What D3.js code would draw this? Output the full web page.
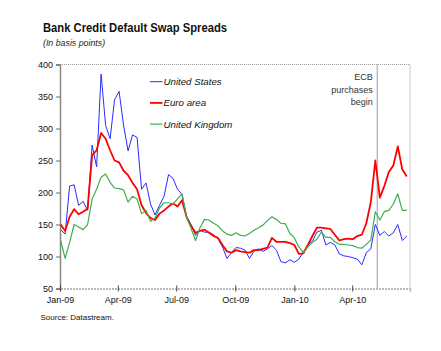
<!DOCTYPE html>
<html><head><meta charset="utf-8">
<script src="https://cdn.jsdelivr.net/npm/d3@7"></script>
<style>body{margin:0;background:#fff}svg{display:block}text{font-family:"Liberation Sans",Arial,sans-serif}</style>
</head><body><svg id="c" width="441" height="351"></svg>
<script>
const dates = ["2009-01-02","2009-01-09","2009-01-16","2009-01-23","2009-01-30","2009-02-06","2009-02-13","2009-02-20","2009-02-27",
"2009-03-06","2009-03-13","2009-03-20","2009-03-27","2009-04-03","2009-04-10","2009-04-17","2009-04-24","2009-05-01","2009-05-08",
"2009-05-15","2009-05-22","2009-05-29","2009-06-05","2009-06-12","2009-06-19","2009-06-26","2009-07-03","2009-07-10","2009-07-17",
"2009-07-24","2009-07-31","2009-08-07","2009-08-14","2009-08-21","2009-08-28","2009-09-04","2009-09-11","2009-09-18","2009-09-25",
"2009-10-02","2009-10-09","2009-10-16","2009-10-23","2009-10-30","2009-11-06","2009-11-13","2009-11-20","2009-11-27","2009-12-04",
"2009-12-11","2009-12-18","2009-12-25","2010-01-01","2010-01-08","2010-01-15","2010-01-22","2010-01-29","2010-02-05","2010-02-12",
"2010-02-19","2010-02-26","2010-03-05","2010-03-12","2010-03-19","2010-03-26","2010-04-02","2010-04-09","2010-04-16","2010-04-23",
"2010-04-30","2010-05-07","2010-05-14","2010-05-21","2010-05-28","2010-06-04","2010-06-11","2010-06-18","2010-06-25"];
const unitedStates = [142,135,210,212,180,186,172,274,240,385,305,284,345,358,305,265,290,286,205,215,182,165,180,194,228,222,205,197,
163,150,133,141,138,138,134,128,115,97,106,114,113,110,97,108,112,108,112,117,110,92,90,95,91,96,107,118,124,138,141,118,122,118,
104,101,100,98,96,87,106,112,150,133,139,132,137,150,125,132];
const euroArea = [150,140,162,174,166,170,175,258,266,293,284,266,250,247,234,227,215,205,180,168,160,157,167,172,178,183,178,188,
162,148,137,140,142,137,132,129,118,108,106,110,108,107,106,110,110,112,114,129,123,123,123,121,118,104,105,118,132,145,145,144,143,
134,125,127,128,127,132,134,152,185,250,192,210,232,242,272,236,225];
const unitedKingdom = [125,97,122,150,146,142,150,190,205,224,229,216,207,206,204,185,194,190,167,172,155,160,176,184,184,182,190,198,
162,144,125,145,158,157,152,148,140,135,133,137,133,132,136,141,145,149,156,162,158,152,151,136,129,115,106,115,122,127,138,130,130,
123,119,119,118,117,114,113,119,126,170,157,170,172,182,198,172,172];
const yTicks = [50,100,150,200,250,300,350,400];
const xTickDates = ["2009-01-01","2009-04-01","2009-07-01","2009-10-01","2010-01-01","2010-04-01"];
const seriesNames = ["United States","Euro area","United Kingdom"];
const ecbDate = "2010-05-10";
const ecbLabel = ["ECB","purchases","begin"];

const parse = d3.timeParse("%Y-%m-%d");
const svg = d3.select("#c");
const L=60,R=410,T=64.5,B=288.5;
const x = d3.scaleTime().domain([parse("2009-01-01"),parse("2010-06-30")]).range([L,R]);
const y = d3.scaleLinear().domain([50,400]).range([B,T]);

// frame (top & right dotted)
svg.append("line").attr("x1",L).attr("x2",R).attr("y1",T).attr("y2",T).attr("stroke","#999").attr("stroke-dasharray","1,1");
svg.append("line").attr("x1",R).attr("x2",R).attr("y1",T).attr("y2",B).attr("stroke","#999").attr("stroke-dasharray","1,1");

// ECB line
svg.append("line").attr("x1",x(parse(ecbDate))).attr("x2",x(parse(ecbDate))).attr("y1",T).attr("y2",B)
  .attr("stroke","#b0b0b0").attr("stroke-width",1.2);
svg.append("text").selectAll("tspan").data(ecbLabel).join("tspan")
  .attr("x",x(parse(ecbDate))-4.5).attr("y",(d,i)=>80+i*12.5).attr("text-anchor","end")
  .attr("font-size",9).attr("fill","#333").text(d=>d);

// axes
const yAxis = d3.axisLeft(y).tickValues(yTicks).tickSize(4).tickPadding(3);
const gy = svg.append("g").attr("transform",`translate(${L},0)`).call(yAxis);
gy.select(".domain").attr("stroke","#888").attr("stroke-width",1.5);
gy.selectAll(".tick line").attr("stroke","#666");
gy.selectAll("text").attr("font-size",9).attr("fill","#111").attr("font-family","Liberation Sans, Arial, sans-serif");

const xAxis = d3.axisBottom(x).tickValues(xTickDates.map(parse)).tickFormat(d3.timeFormat("%b-%y")).tickSize(3).tickPadding(5);
const gx = svg.append("g").attr("transform",`translate(0,${B})`).call(xAxis);
gx.select(".domain").attr("stroke","#777").attr("stroke-dasharray","2,1").attr("stroke-width",1.2);
gx.selectAll(".tick line").attr("stroke","#444").attr("y1",-3);
gx.selectAll("text").attr("font-size",9).attr("fill","#111").attr("font-family","Liberation Sans, Arial, sans-serif");

// lines
const colors = ["#2b2bff","#ff0000","#3cb050"];
const widths = [1,1.8,1.2];
const allSeries = [unitedStates, euroArea, unitedKingdom];
const line = d3.line().x(d=>x(d[0])).y(d=>y(d[1]));
allSeries.forEach((s,i)=>{
  svg.append("path").datum(dates.map((d,j)=>[parse(d),s[j]]))
    .attr("d",line).attr("fill","none").attr("stroke",colors[i]).attr("stroke-width",widths[i]).attr("stroke-linejoin","round");
});

// legend
const lg = svg.append("g");
seriesNames.forEach((n,i)=>{
  const yy = 81.7 + i*21.2;
  lg.append("line").attr("x1",150).attr("x2",162.5).attr("y1",yy).attr("y2",yy).attr("stroke",colors[i]).attr("stroke-width",widths[i]);
  lg.append("text").attr("x",163.5).attr("y",yy+3.5).attr("font-size",9.7).attr("font-style","italic").attr("fill","#111").text(n);
});

// titles
svg.append("text").attr("x",43).attr("y",32).attr("font-size",12).attr("font-weight","bold").attr("fill","#111")
  .attr("textLength",184).attr("lengthAdjust","spacingAndGlyphs").text("Bank Credit Default Swap Spreads");
svg.append("text").attr("x",43).attr("y",45.5).attr("font-size",8.8).attr("font-style","italic").attr("fill","#222")
  .text("(In basis points)");
svg.append("text").attr("x",40.5).attr("y",320).attr("font-size",8).attr("fill","#111").text("Source: Datastream.");
</script></body></html>
